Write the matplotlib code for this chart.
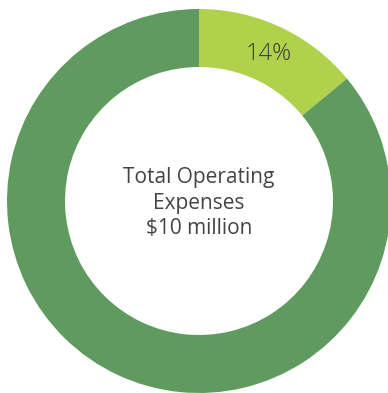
import matplotlib
matplotlib.use("Agg")
import matplotlib.pyplot as plt
import numpy as np

# Share of total operating expenses
categories = ["Highlighted", "Other"]
shares = [14, 86]
slice_labels = ["14%", ""]
colors = ["#b0d14b", "#5f9a5e"]
center_lines = ["Total Operating", "Expenses", "$10 million"]

W, H = 388, 393
fig = plt.figure(figsize=(W / 100, H / 100), dpi=100)
ax = fig.add_axes([0, 0, 1, 1])

cx, cy = 199, H - 201
outer_r, ring_w = 192, 58

wedges, _ = ax.pie(
    shares,
    colors=colors,
    startangle=90,
    counterclock=False,
    radius=outer_r,
    center=(cx, cy),
    wedgeprops=dict(width=ring_w, edgecolor="none"),
    frame=False,
)
ax.set_xlim(0, W)
ax.set_ylim(0, H)
ax.set_aspect("equal")
ax.axis("off")

# Percentage label in the middle of its wedge
label_r = outer_r - ring_w / 2
for w, lab in zip(wedges, slice_labels):
    if not lab:
        continue
    mid = np.deg2rad((w.theta1 + w.theta2) / 2)
    ax.text(cx + label_r * np.cos(mid), cy + label_r * np.sin(mid), lab,
            ha="center", va="center", fontsize=17, color="#3d3d33",
            family="Open Sans", fontweight="light")

ax.text(cx, cy - 2, "\n".join(center_lines), ha="center", va="center",
        fontsize=15, color="#444444", family="Open Sans", linespacing=1.3)

fig.savefig("out.png", dpi=100)
